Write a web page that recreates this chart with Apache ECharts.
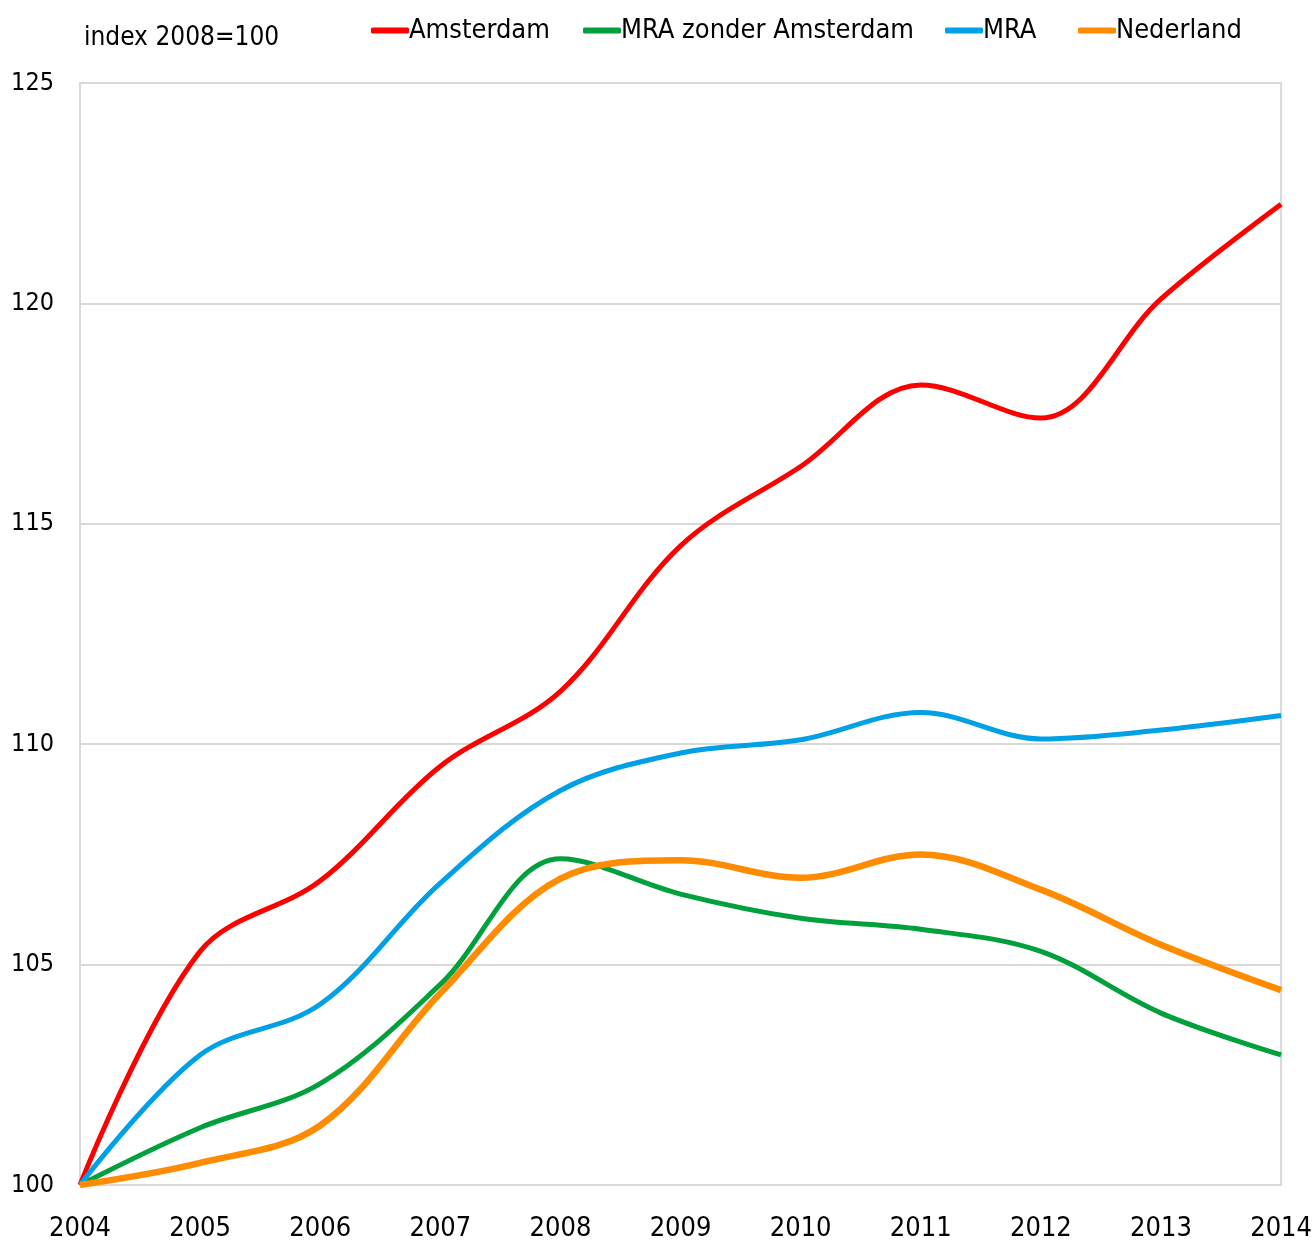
<!DOCTYPE html>
<html>
<head>
<meta charset="utf-8">
<script src="https://cdn.jsdelivr.net/npm/echarts@6/dist/echarts.min.js"></script>
<style>
html,body{margin:0;padding:0;background:#fff;overflow:hidden;}
#chart{width:1315px;height:1250px;}
</style>
</head>
<body>
<div id="chart"></div>
<script>
var years = ['2004','2005','2006','2007','2008','2009','2010','2011','2012','2013','2014'];
var amsterdam = [100, 105.3, 106.9, 109.5, 111.2, 114.5, 116.3, 118.15, 117.4, 120.1, 122.25];
var mraZonder = [100, 101.3, 102.3, 104.55, 107.4, 106.6, 106.05, 105.8, 105.3, 103.9, 102.95];
var mra = [100, 102.95, 104.1, 106.85, 108.95, 109.8, 110.1, 110.72, 110.12, 110.32, 110.65];
var nederland = [100, 100.5, 101.35, 104.35, 106.95, 107.37, 106.97, 107.5, 106.7, 105.45, 104.42];
var seriesNames = ['Amsterdam', 'MRA zonder Amsterdam', 'MRA', 'Nederland'];
var yTicks = {min: 100, max: 125, interval: 5};

var FONT = '"DejaVu Sans Condensed","Liberation Sans Narrow",sans-serif';
var chart = echarts.init(document.getElementById('chart'), null, {renderer: 'canvas'});
function s(name, data, color, width) {
  return {name: name, type: 'line', data: data, smooth: 0.35, symbol: 'none',
    lineStyle: {color: color, width: width}, itemStyle: {color: color}};
}
var legendLefts = [366, 578, 940, 1073];
var legends = seriesNames.map(function (n, i) {
  return {top: 12, left: legendLefts[i], itemWidth: 38, itemHeight: 6, icon: 'roundRect',
    textStyle: {fontFamily: FONT, fontSize: 27, color: '#000', padding: [0,0,0,-5]},
    data: [n]};
});
chart.setOption({
  animation: false,
  title: {text: 'index 2008=100', left: 79, top: 20,
    textStyle: {fontFamily: FONT, fontSize: 26, fontWeight: 'normal', color: '#000'}},
  legend: legends,
  grid: {left: 80, right: 32, top: 83, bottom: 65, show: true, borderColor: '#d9d9d9', borderWidth: 2},
  xAxis: {type: 'category', data: years, boundaryGap: false,
    axisLine: {lineStyle: {color: '#d9d9d9', width: 2}}, axisTick: {show: false},
    axisLabel: {fontFamily: FONT, fontSize: 27, color: '#000', margin: 30}},
  yAxis: {type: 'value', min: yTicks.min, max: yTicks.max, interval: yTicks.interval,
    axisLine: {show: false}, axisTick: {show: false},
    splitLine: {lineStyle: {color: '#d9d9d9', width: 2}},
    axisLabel: {fontFamily: FONT, fontSize: 25, color: '#000', margin: 26, padding: [8,0,0,0]}},
  series: [
    s('Amsterdam', amsterdam, '#ff0000', 5),
    s('MRA zonder Amsterdam', mraZonder, '#00a03c', 5),
    s('MRA', mra, '#00a0e6', 5),
    s('Nederland', nederland, '#ff8c00', 6.5)
  ]
});
</script>
</body>
</html>
